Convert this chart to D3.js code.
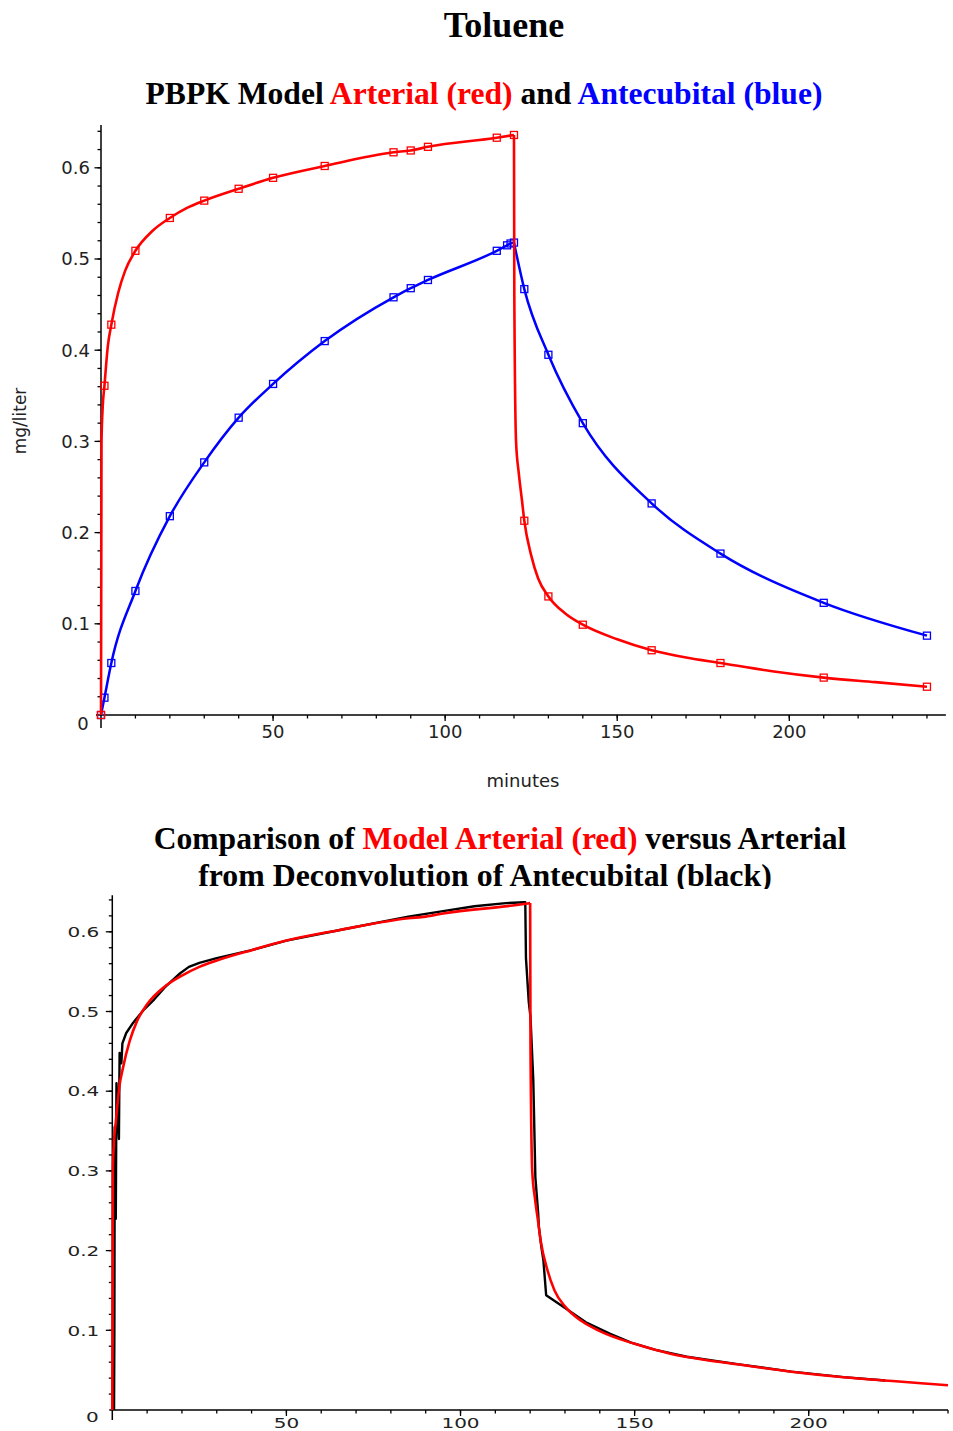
<!DOCTYPE html>
<html><head><meta charset="utf-8">
<script src="https://cdn.jsdelivr.net/npm/d3@7"></script>
<style>body{margin:0;background:#fff}svg{display:block}text{white-space:pre}</style>
</head><body>
<svg id="c" width="953" height="1431"></svg>
<script>
// ---------- DATA ----------
const mainTitle = "Toluene";
const topTitleParts = [["PBPK Model ", "#000"], ["Arterial (red)", "#ff0000"], [" and ", "#000"], ["Antecubital (blue)", "#0000ff"]];
const botTitleLine1 = [["Comparison of ", "#000"], ["Model Arterial (red)", "#ff0000"], [" versus Arterial", "#000"]];
const botTitleLine2 = [["from Deconvolution of Antecubital (black)", "#000"]];
const xAxisTitle = "minutes";
const yAxisTitle = "mg/liter";

// Model arterial (red), minutes / mg per liter
const redT = [0, 0.15, 0.5, 1, 2, 3, 5, 7, 10, 15, 20, 25, 30, 40, 50, 65, 85, 90, 95, 115, 120,
              120.1, 120.6, 121.4, 122.3, 123, 125, 127, 130, 135, 140, 150, 160, 170, 180, 195, 210, 225, 240];
const redV = [0, 0.300, 0.338, 0.361, 0.405, 0.428, 0.463, 0.487, 0.509, 0.531, 0.545, 0.556, 0.564, 0.577, 0.589, 0.602, 0.617, 0.619, 0.623, 0.633, 0.636,
              0.460, 0.300, 0.265, 0.236, 0.213, 0.175, 0.150, 0.130, 0.111, 0.099, 0.083, 0.071, 0.063, 0.057, 0.048, 0.041, 0.036, 0.031];
const redMarkT = [0, 1, 3, 10, 20, 30, 40, 50, 65, 85, 90, 95, 115, 120, 123, 130, 140, 160, 180, 210, 240];

// Model antecubital (blue)
const blueT = [0, 1, 3, 10, 20, 30, 40, 50, 65, 85, 90, 95, 115, 118, 119, 120, 123, 130, 140, 160, 180, 210, 240];
const blueV = [0, 0.019, 0.057, 0.136, 0.218, 0.277, 0.326, 0.363, 0.410, 0.458, 0.468, 0.477, 0.509, 0.515, 0.517, 0.518, 0.467, 0.395, 0.320, 0.232, 0.177, 0.123, 0.087];

// Arterial from deconvolution of antecubital (black)
const blackT = [0.5, 0.6, 0.7, 1.0, 1.2, 1.9, 2.1, 2.6, 2.9, 4, 6, 9, 12, 15, 17, 19.5, 22, 25, 30, 35, 40, 50, 65, 85, 95, 104, 113, 118.3,
                118.6, 118.8, 119.6, 120.1, 120.9, 121.5, 122.3, 122.5, 123.2, 123.8, 124.6, 129.5, 136, 143, 149, 156, 165, 180, 195, 210, 222];
const blackV = [0, 0.100, 0.355, 0.240, 0.410, 0.340, 0.448, 0.435, 0.460, 0.473, 0.486, 0.502, 0.515, 0.530, 0.538, 0.548, 0.556, 0.561, 0.567, 0.572, 0.577, 0.589, 0.602, 0.619, 0.626, 0.632, 0.636, 0.637,
                0.637, 0.567, 0.512, 0.493, 0.414, 0.292, 0.247, 0.230, 0.205, 0.188, 0.144, 0.1296, 0.110, 0.0955, 0.0845, 0.0755, 0.0668, 0.0572, 0.0482, 0.0413, 0.0370];

const xMajor = [50, 100, 150, 200];
const xMajorLabels = ["50", "100", "150", "200"];
const yMajor = [0.1, 0.2, 0.3, 0.4, 0.5, 0.6];
const yMajorLabels = ["0.1", "0.2", "0.3", "0.4", "0.5", "0.6"];
const originLabel = "0";
const xMinor = d3.range(10, 241, 10);
const yMinor = d3.range(1, 33).map(i => +(i * 0.02).toFixed(2));

// ---------- DRAW ----------
const svg = d3.select("#c");
const serif = '"Liberation Serif","Times New Roman",serif';
const sans = '"DejaVu Sans",Verdana,sans-serif';

function title(parts, cx, y, size, clipId) {
  const t = svg.append("text").attr("x", cx).attr("y", y).attr("text-anchor", "middle")
    .style("font-family", serif).style("font-weight", "bold").style("font-size", size + "px");
  if (clipId) t.attr("clip-path", "url(#" + clipId + ")");
  parts.forEach(p => t.append("tspan").attr("fill", p[1]).text(p[0]));
  return t;
}

svg.append("defs").append("clipPath").attr("id", "clipT2")
  .append("rect").attr("x", 0).attr("y", 850).attr("width", 953).attr("height", 39);

title([[mainTitle, "#000"]], 504, 37, 36);
title(topTitleParts, 484, 104, 31.6);
title(botTitleLine1, 500, 849, 31.6);
title(botTitleLine2, 485, 886, 31.8, "clipT2");

const zip = (a, b) => a.map((t, i) => [t, b[i]]);
const redPts = zip(redT, redV), bluePts = zip(blueT, blueV), blackPts = zip(blackT, blackV);

function drawAxes(g, x, y, o) {
  const x0 = x(0), y0 = y(0);
  const fnt = o.font;
  g.append("line").attr("x1", x0 - o.xLeft).attr("x2", x.range()[1]).attr("y1", y0).attr("y2", y0)
    .attr("stroke", "#000").attr("stroke-width", 1.5);
  g.append("line").attr("x1", x0).attr("x2", x0).attr("y1", y0 + o.yBelow).attr("y2", y.range()[1])
    .attr("stroke", "#000").attr("stroke-width", 1.5);
  g.selectAll(null).data(xMinor).join("line").attr("x1", d => x(d)).attr("x2", d => x(d))
    .attr("y1", y0).attr("y2", y0 + 3.5).attr("stroke", "#000").attr("stroke-width", 1.3);
  g.selectAll(null).data(yMinor).join("line").attr("y1", d => y(d)).attr("y2", d => y(d))
    .attr("x1", x0).attr("x2", x0 - 3.5).attr("stroke", "#000").attr("stroke-width", 1.3);
  g.selectAll(null).data(xMajor).join("line").attr("x1", d => x(d)).attr("x2", d => x(d))
    .attr("y1", y0).attr("y2", y0 + 6).attr("stroke", "#000").attr("stroke-width", 1.3);
  g.selectAll(null).data(yMajor).join("line").attr("y1", d => y(d)).attr("y2", d => y(d))
    .attr("x1", x0).attr("x2", x0 - 6.5).attr("stroke", "#000").attr("stroke-width", 1.3);
  g.selectAll(null).data(xMajor).join("text")
    .attr("transform", d => `translate(${x(d)},${y0 + o.xLabDy}) scale(${o.sx},1)`)
    .attr("text-anchor", "middle").style("font-family", sans).style("font-size", fnt + "px").attr("fill", "#222")
    .text((d, i) => xMajorLabels[i]);
  g.selectAll(null).data(yMajor).join("text")
    .attr("transform", d => `translate(${x0 - o.yLabDx},${y(d) + fnt * 0.36}) scale(${o.sx},1)`)
    .attr("text-anchor", "end").style("font-family", sans).style("font-size", fnt + "px").attr("fill", "#222")
    .text((d, i) => yMajorLabels[i]);
  g.append("text").attr("transform", `translate(${x0 - o.oDx},${y0 + o.oDy}) scale(${o.sx},1)`)
    .attr("text-anchor", "middle").style("font-family", sans).style("font-size", fnt + "px").attr("fill", "#222")
    .text(originLabel);
}

function splitAt(pts, t) { return [pts.filter(d => d[0] <= t), pts.filter(d => d[0] >= t)]; }

// ---- Top chart ----
{
  const x = d3.scaleLinear().domain([0, 245.5]).range([101, 101 + 245.5 * 3.4415]);
  const y = d3.scaleLinear().domain([0, 0.647]).range([715, 715 - 0.647 * 912]);
  const g = svg.append("g");
  drawAxes(g, x, y, {font: 18, sx: 1, xLeft: 5, yBelow: 13, xLabDy: 23, yLabDx: 11, oDx: 18, oDy: 15});
  const line = d3.line().x(d => x(d[0])).y(d => y(d[1])).curve(d3.curveMonotoneX);
  splitAt(bluePts, 120).forEach(seg => g.append("path").attr("d", line(seg)).attr("fill", "none")
    .attr("stroke", "#0000ff").attr("stroke-width", 2.5).attr("stroke-linejoin", "round"));
  g.selectAll(null).data(bluePts).join("rect")
    .attr("x", d => x(d[0]) - 3.5).attr("y", d => y(d[1]) - 3.5).attr("width", 7).attr("height", 7)
    .attr("fill", "none").attr("stroke", "#0000ff").attr("stroke-width", 1.3);
  splitAt(redPts, 120).forEach(seg => g.append("path").attr("d", line(seg)).attr("fill", "none")
    .attr("stroke", "#ff0000").attr("stroke-width", 2.6).attr("stroke-linejoin", "round"));
  const redMarks = redPts.filter(d => redMarkT.includes(d[0]));
  g.selectAll(null).data(redMarks).join("rect")
    .attr("x", d => x(d[0]) - 3.5).attr("y", d => y(d[1]) - 3.5).attr("width", 7).attr("height", 7)
    .attr("fill", "none").attr("stroke", "#ff0000").attr("stroke-width", 1.3);
  g.append("text").attr("x", 523).attr("y", 787).attr("text-anchor", "middle")
    .style("font-family", sans).style("font-size", "18px").attr("fill", "#222").text(xAxisTitle);
  g.append("text").attr("transform", "translate(26,421) rotate(-90)").attr("text-anchor", "middle")
    .style("font-family", sans).style("font-size", "17px").attr("fill", "#222").text(yAxisTitle);
}

// ---- Bottom chart ----
{
  const x = d3.scaleLinear().domain([0, 240]).range([112.3, 948]);
  const y = d3.scaleLinear().domain([0, 0.646]).range([1410, 1410 - 0.646 * 797]);
  const g = svg.append("g");
  drawAxes(g, x, y, {font: 14.5, sx: 1.38, xLeft: 3, yBelow: 10, xLabDy: 18, yLabDx: 13, oDx: 20, oDy: 12});
  const lineL = d3.line().x(d => x(d[0])).y(d => y(d[1]));
  g.append("path").attr("d", lineL(blackPts)).attr("fill", "none")
    .attr("stroke", "#000").attr("stroke-width", 2.4).attr("stroke-linejoin", "round");
  const line = d3.line().x(d => x(d[0])).y(d => y(d[1])).curve(d3.curveMonotoneX);
  splitAt(redPts, 120).forEach(seg => g.append("path").attr("d", line(seg)).attr("fill", "none")
    .attr("stroke", "#ff0000").attr("stroke-width", 2.6).attr("stroke-linejoin", "round"));
}
</script>
</body></html>
